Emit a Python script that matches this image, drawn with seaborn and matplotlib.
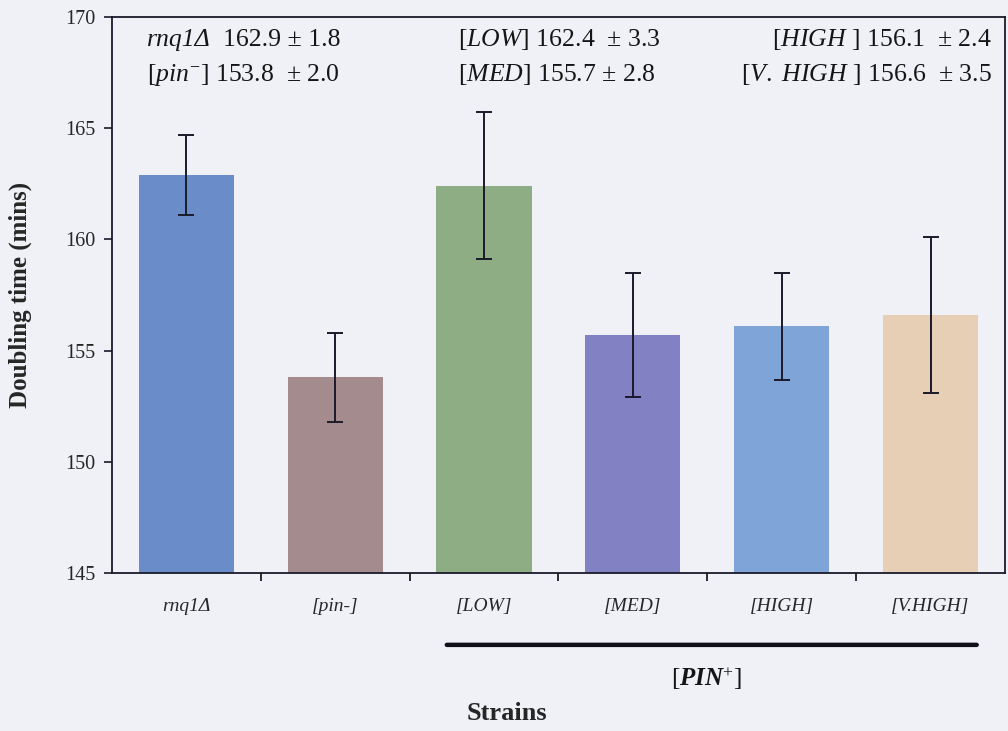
import matplotlib
matplotlib.use("Agg")
import matplotlib.pyplot as plt
import seaborn as sns
import pandas as pd
from matplotlib.ticker import FixedLocator

strains = ["rnq1Δ", "[pin-]", "[LOW]", "[MED]", "[HIGH]", "[V.HIGH]"]
doubling_time = [162.9, 153.8, 162.4, 155.7, 156.1, 156.6]
sd = [1.8, 2.0, 3.3, 2.8, 2.4, 3.5]
bar_colors = ["#6a8cc8", "#a38b8e", "#8fad85", "#8181c4", "#7fa4d7", "#e7cfb5"]
y_ticks = [145, 150, 155, 160, 165, 170]

df = pd.DataFrame({"strain": strains, "time": doubling_time, "sd": sd})

sns.set_theme(style="white")
plt.rcParams["font.family"] = ["Liberation Serif", "DejaVu Serif"]
plt.rcParams["mathtext.fontset"] = "custom"
plt.rcParams["mathtext.rm"] = "Liberation Serif"
plt.rcParams["mathtext.it"] = "Liberation Serif:italic"
plt.rcParams["mathtext.bf"] = "Liberation Serif:bold"
plt.rcParams["mathtext.bfit"] = "Liberation Serif:bold:italic"

ink = "#1a1a2a"
bg = "#eff1f7"
fig = plt.figure(figsize=(10.08, 7.31), dpi=100, facecolor=bg)
ax = fig.add_axes([0.111, 0.216, 0.886, 0.761])
ax.set_facecolor(bg)

sns.barplot(data=df, x="strain", y="time", hue="strain", palette=bar_colors,
            order=strains, hue_order=strains, errorbar=None, width=0.64,
            legend=False, ax=ax, saturation=1, linewidth=0, edgecolor="none")
ax.errorbar(range(len(strains)), df["time"], yerr=df["sd"], fmt="none",
            ecolor=ink, elinewidth=1.4, capsize=6, capthick=1.4)

ax.set_ylim(145, 170)
ax.set_xlim(-0.5, len(strains) - 0.5)
ax.set_yticks(y_ticks)
ax.set_yticklabels([str(v) for v in y_ticks], fontsize=14.5)
ax.set_xticks(range(len(strains)))
ax.set_xticklabels(strains, fontsize=14, style="italic")
ax.xaxis.set_minor_locator(FixedLocator([i + 0.5 for i in range(len(strains) - 1)]))
ax.tick_params(axis="x", which="major", length=0, pad=18)
ax.tick_params(axis="x", which="minor", length=6, width=1.3, direction="out",
               color=ink, bottom=True)
ax.tick_params(axis="y", which="major", length=6, width=1.2, direction="out",
               color=ink, left=True, pad=6)
for s in ax.spines.values():
    s.set_color(ink)
    s.set_linewidth(1.3)

ax.set_xlabel("")
ax.set_ylabel("Doubling time (mins)", fontsize=18, fontweight="bold")
ax.yaxis.set_label_coords(-0.09, 0.5)
fig.text(0.503, 0.015, "Strains", fontsize=19, fontweight="bold", ha="center")

# summary values (mean ± SD) written across the top of the plot
fs = 18.5
t = ax.text(0.039, 0.9586, "rnq1Δ", transform=ax.transAxes, fontsize=fs,
            style="italic", ha="left", va="center", color="#151515")
ax.annotate("  162.9 ± 1.8", xy=(1, 0.5), xycoords=t, xytext=(0, 0),
            textcoords="offset points", fontsize=fs, ha="left", va="center",
            color="#151515")
ax.text(0.039, 0.8957, r"[$\mathit{pin}^{-}$] 153.8  ± 2.0", transform=ax.transAxes,
        fontsize=fs, ha="left", va="center", color="#151515")
ax.text(0.387, 0.9586, r"[$\mathit{LOW}$] 162.4  ± 3.3", transform=ax.transAxes,
        fontsize=fs, ha="left", va="center", color="#151515")
ax.text(0.387, 0.8957, r"[$\mathit{MED}$] 155.7 ± 2.8", transform=ax.transAxes,
        fontsize=fs, ha="left", va="center", color="#151515")
ax.text(0.985, 0.9586, r"[$\mathit{HIGH}$ ] 156.1  ± 2.4", transform=ax.transAxes,
        fontsize=fs, ha="right", va="center", color="#151515")
ax.text(0.985, 0.8957, r"[$\mathit{V.\ HIGH}$ ] 156.6  ± 3.5", transform=ax.transAxes,
        fontsize=fs, ha="right", va="center", color="#151515")

# bracket line grouping the [PIN+] strains
ax.annotate("", xy=(5.31, -0.129), xytext=(1.75, -0.129),
            xycoords=("data", "axes fraction"),
            arrowprops=dict(arrowstyle="-", lw=3.2, color="#101018",
                            shrinkA=0, shrinkB=0), annotation_clip=False)
ax.text(3.49, -0.189, r"[$\mathbfit{PIN}^{+}$]", transform=ax.get_xaxis_transform(),
        fontsize=18, ha="center", va="center", color="#151515")

fig.savefig("out.png", dpi=100, facecolor=bg)
